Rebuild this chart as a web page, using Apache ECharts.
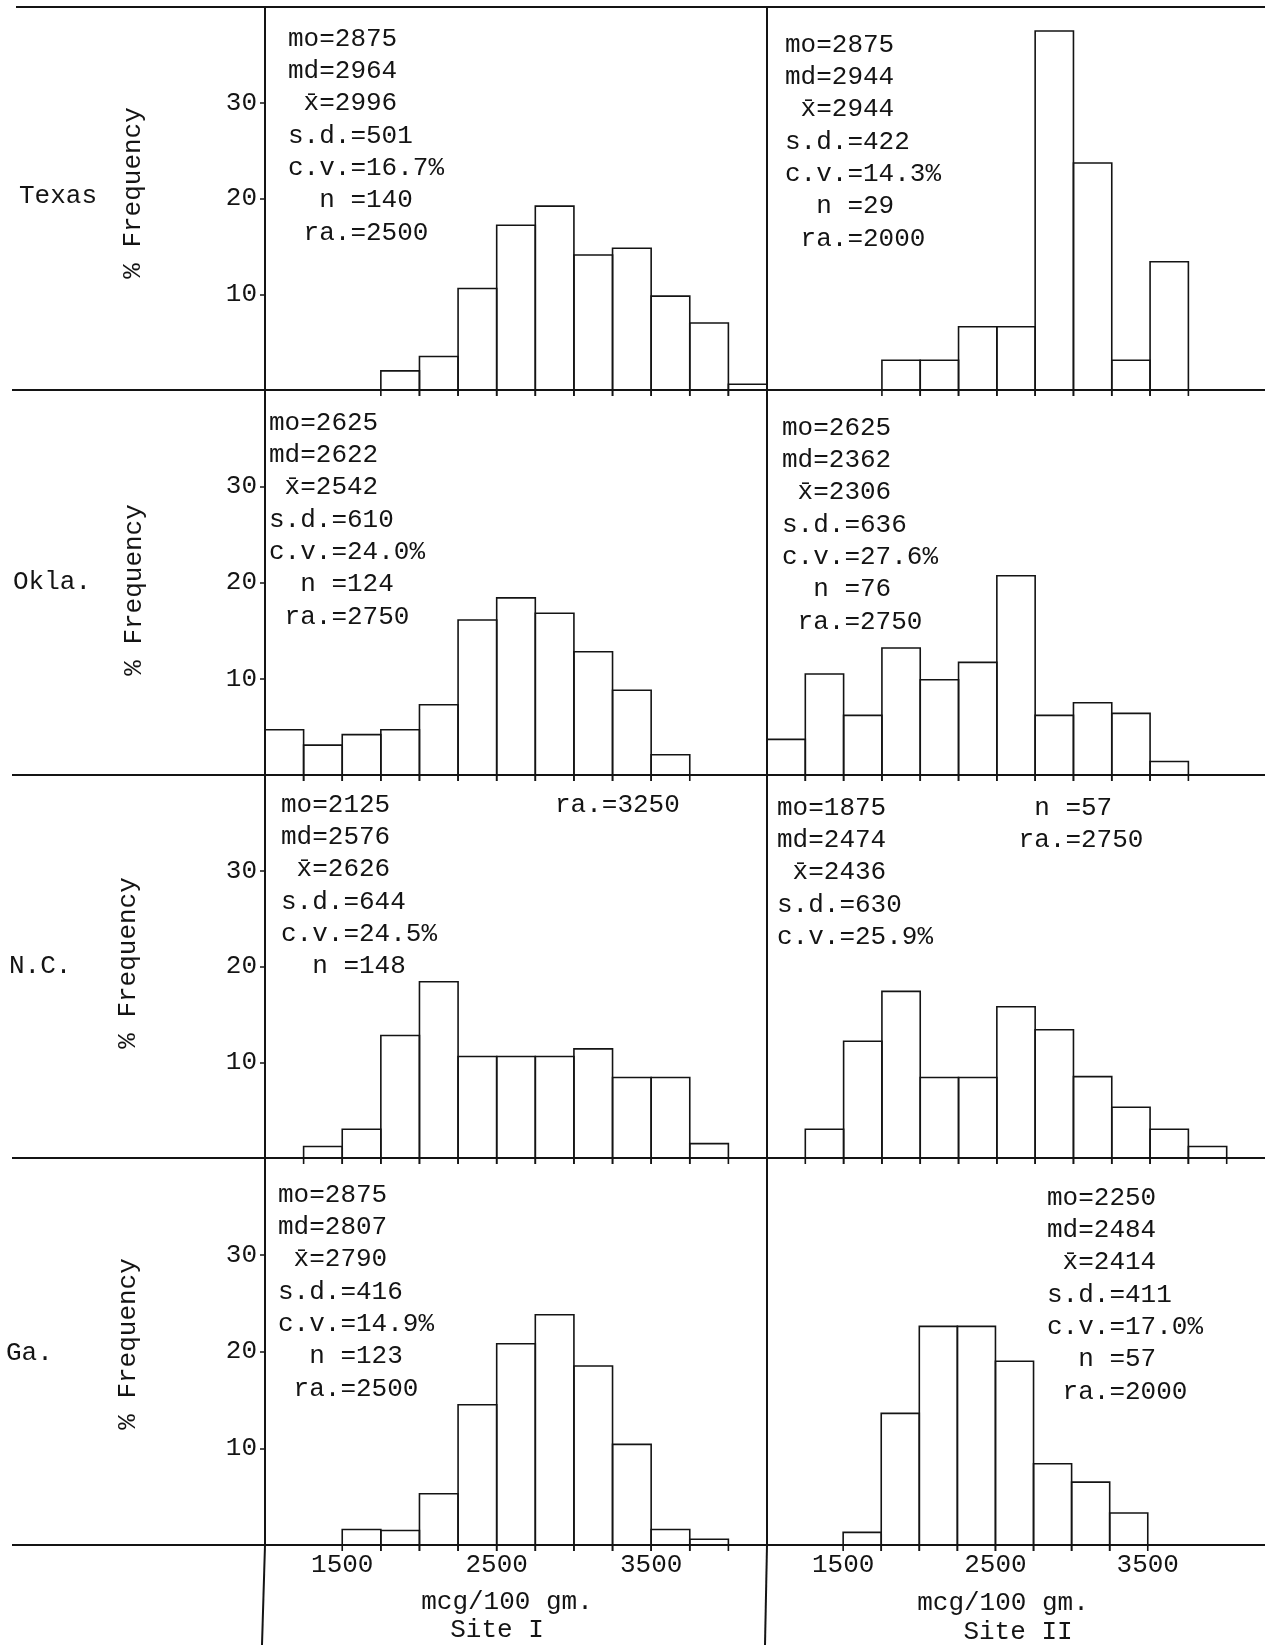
<!DOCTYPE html>
<html>
<head>
<meta charset="utf-8">
<script src="https://cdn.jsdelivr.net/npm/echarts@6/dist/echarts.min.js"></script>
<style>
  html, body { margin: 0; padding: 0; background: #fff; }
  #chart { width: 1265px; height: 1645px; }
</style>
</head>
<body>
<div id="chart"></div>
<script>
// ---------------- DATA ----------------
const ROW_NAMES = ['Texas', 'Okla.', 'N.C.', 'Ga.'];
const SITE_NAMES = ['Site I', 'Site II'];
const Y_AXIS_NAME = '% Frequency';
const X_AXIS_NAME = 'mcg/100 gm.';
const Y_TICKS = [10, 20, 30];
const X_TICKS = [1500, 2500, 3500];
const BIN = 250; // class width, mcg/100 gm

// Texas
const texasI_bins = [1750, 2000, 2250, 2500, 2750, 3000, 3250, 3500, 3750, 4000];
const texasI_vals = [2.0, 3.5, 10.6, 17.2, 19.2, 14.1, 14.8, 9.8, 7.0, 0.6];
const texasII_bins = [1750, 2000, 2250, 2500, 2750, 3000, 3250, 3500];
const texasII_vals = [3.1, 3.1, 6.6, 6.6, 37.5, 23.7, 3.1, 13.4];
// Oklahoma
const oklaI_bins = [1000, 1250, 1500, 1750, 2000, 2250, 2500, 2750, 3000, 3250, 3500];
const oklaI_vals = [4.7, 3.1, 4.2, 4.7, 7.3, 16.1, 18.4, 16.8, 12.8, 8.8, 2.1];
const oklaII_bins = [1000, 1250, 1500, 1750, 2000, 2250, 2500, 2750, 3000, 3250, 3500];
const oklaII_vals = [3.7, 10.5, 6.2, 13.2, 9.9, 11.7, 20.7, 6.2, 7.5, 6.4, 1.4];
// North Carolina
const ncI_bins = [1250, 1500, 1750, 2000, 2250, 2500, 2750, 3000, 3250, 3500, 3750];
const ncI_vals = [1.2, 3.0, 12.8, 18.4, 10.6, 10.6, 10.6, 11.4, 8.4, 8.4, 1.5];
const ncII_bins = [1250, 1500, 1750, 2000, 2250, 2500, 2750, 3000, 3250, 3500, 3750];
const ncII_vals = [3.0, 12.2, 17.4, 8.4, 8.4, 15.8, 13.4, 8.5, 5.3, 3.0, 1.2];
// Georgia
const gaI_bins = [1500, 1750, 2000, 2250, 2500, 2750, 3000, 3250, 3500, 3750];
const gaI_vals = [1.6, 1.5, 5.3, 14.5, 20.8, 23.8, 18.5, 10.4, 1.6, 0.6];
const gaII_bins = [1500, 1750, 2000, 2250, 2500, 2750, 3000, 3250];
const gaII_vals = [1.3, 13.6, 22.6, 22.6, 19.0, 8.4, 6.5, 3.3];

// Statistics typed in each panel
const texasI_stats = ['mo=2875', 'md=2964', ' x\u0304=2996', 's.d.=501', 'c.v.=16.7%', '  n =140', ' ra.=2500'];
const texasII_stats = ['mo=2875', 'md=2944', ' x\u0304=2944', 's.d.=422', 'c.v.=14.3%', '  n =29', ' ra.=2000'];
const oklaI_stats = ['mo=2625', 'md=2622', ' x\u0304=2542', 's.d.=610', 'c.v.=24.0%', '  n =124', ' ra.=2750'];
const oklaII_stats = ['mo=2625', 'md=2362', ' x\u0304=2306', 's.d.=636', 'c.v.=27.6%', '  n =76', ' ra.=2750'];
const ncI_stats = ['mo=2125', 'md=2576', ' x\u0304=2626', 's.d.=644', 'c.v.=24.5%', '  n =148'];
const ncI_extra = ['ra.=3250'];
const ncII_stats = ['mo=1875', 'md=2474', ' x\u0304=2436', 's.d.=630', 'c.v.=25.9%'];
const ncII_extra = ['  n =57', ' ra.=2750'];
const gaI_stats = ['mo=2875', 'md=2807', ' x\u0304=2790', 's.d.=416', 'c.v.=14.9%', '  n =123', ' ra.=2500'];
const gaII_stats = ['mo=2250', 'md=2484', ' x\u0304=2414', 's.d.=411', 'c.v.=17.0%', '  n =57', ' ra.=2000'];

// ---------------- LAYOUT ----------------
const FONT = '"Liberation Mono", "DejaVu Sans Mono", monospace';
const FS = 26;
const INK = '#141414';
const COL_LEFT = [265, 767];
const COL_W = 502;
const ROW_TOP = [7, 390, 775, 1158];
const ROW_BASE = [390, 775, 1158, 1545];
const LINE_H = 32.3;

const panels = [
  { r: 0, c: 0, bins: texasI_bins, vals: texasI_vals },
  { r: 0, c: 1, bins: texasII_bins, vals: texasII_vals },
  { r: 1, c: 0, bins: oklaI_bins, vals: oklaI_vals },
  { r: 1, c: 1, bins: oklaII_bins, vals: oklaII_vals },
  { r: 2, c: 0, bins: ncI_bins, vals: ncI_vals },
  { r: 2, c: 1, bins: ncII_bins, vals: ncII_vals },
  { r: 3, c: 0, bins: gaI_bins, vals: gaI_vals },
  { r: 3, c: 1, bins: gaII_bins, vals: gaII_vals }
];

const statBlocks = [
  { lines: texasI_stats, x: 288, y: 39 },
  { lines: texasII_stats, x: 785, y: 45 },
  { lines: oklaI_stats, x: 269, y: 423 },
  { lines: oklaII_stats, x: 782, y: 428 },
  { lines: ncI_stats, x: 281, y: 805 },
  { lines: ncI_extra, x: 555, y: 805 },
  { lines: ncII_stats, x: 777, y: 808 },
  { lines: ncII_extra, x: 1003, y: 808 },
  { lines: gaI_stats, x: 278, y: 1195 },
  { lines: gaII_stats, x: 1047, y: 1198 }
];

const rowLabelPos = [[19, 196], [13, 582], [9, 966], [6, 1353]];
const freqPos = [[133, 193], [134, 590], [128, 963], [128, 1344]];

// ---------------- BUILD ----------------
const grids = [], xAxes = [], yAxes = [], series = [];
panels.forEach((p, i) => {
  grids.push({
    left: COL_LEFT[p.c], top: ROW_TOP[p.r],
    width: COL_W, height: ROW_BASE[p.r] - ROW_TOP[p.r],
    containLabel: false
  });
  xAxes.push({
    gridIndex: i, type: 'value', min: 1000, max: 4250, interval: 250,
    axisLine: { show: true, lineStyle: { color: INK, width: 2 } },
    axisTick: { show: false },
    splitLine: { show: false },
    axisLabel: p.r === 3 ? {
      show: true, margin: 7, color: INK, fontFamily: FONT, fontSize: FS,
      formatter: v => (X_TICKS.indexOf(v) >= 0 ? String(v) : '')
    } : { show: false }
  });
  yAxes.push({
    gridIndex: i, type: 'value', min: 0, max: 40, interval: 10,
    axisLine: { show: true, lineStyle: { color: INK, width: 2 } },
    axisTick: p.c === 0 ? { show: true, length: 5, lineStyle: { color: INK, width: 1.5 } } : { show: false },
    splitLine: { show: false },
    axisLabel: p.c === 0 ? {
      show: true, margin: 8, color: INK, fontFamily: FONT, fontSize: FS,
      formatter: v => (Y_TICKS.indexOf(v) >= 0 ? String(v) : '')
    } : { show: false }
  });
  series.push({
    type: 'custom',
    xAxisIndex: i, yAxisIndex: i,
    clip: false,
    silent: true,
    data: p.bins.map((b, k) => [b, p.vals[k]]),
    encode: { x: 0, y: 1 },
    renderItem: (params, api) => {
      const x0 = api.value(0), v = api.value(1);
      const a = api.coord([x0, 0]);
      const b = api.coord([x0 + BIN, v]);
      const L = a[0], R = b[0], base = a[1], top = b[1];
      return {
        type: 'polyline',
        shape: { points: [[L, base + 6], [L, top], [R, top], [R, base + 6]] },
        style: { stroke: INK, lineWidth: 1.6, fill: null }
      };
    }
  });
});

const graphics = [];
function line(x1, y1, x2, y2, w) {
  graphics.push({ type: 'line', silent: true, z: 10,
    shape: { x1, y1, x2, y2 }, style: { stroke: INK, lineWidth: w || 2 } });
}
function text(str, x, y, align, rot) {
  graphics.push({ type: 'text', silent: true, z: 10, x, y, rotation: rot || 0,
    style: { text: str, fontFamily: FONT, fontSize: FS, fill: INK,
      align: align || 'left', verticalAlign: 'middle',
      textAlign: align || 'left', textVerticalAlign: 'middle' } });
}
// rules
line(16, 7, 1265, 7, 2.2);
ROW_BASE.forEach(y => line(12, y, 1265, y, 2.2));
// vertical rules continuing below the bottom row
line(COL_LEFT[0], ROW_BASE[3], COL_LEFT[0] - 3, 1645, 2);
line(COL_LEFT[1], ROW_BASE[3], COL_LEFT[1] - 2, 1645, 2);
// row names and axis names
ROW_NAMES.forEach((n, r) => {
  text(n, rowLabelPos[r][0], rowLabelPos[r][1], 'left');
  text(Y_AXIS_NAME, freqPos[r][0], freqPos[r][1], 'center', Math.PI / 2);
});
// stats blocks
statBlocks.forEach(b => b.lines.forEach((s, k) => text(s, b.x, b.y + k * LINE_H, 'left')));
// x axis names
text(X_AXIS_NAME, 507, 1602, 'center');
text(X_AXIS_NAME, 1003, 1603, 'center');
text(SITE_NAMES[0], 497, 1630, 'center');
text(SITE_NAMES[1], 1018, 1632, 'center');

const chart = echarts.init(document.getElementById('chart'), null, { renderer: 'canvas' });
chart.setOption({
  backgroundColor: '#ffffff',
  animation: false,
  grid: grids,
  xAxis: xAxes,
  yAxis: yAxes,
  series: series,
  graphic: { elements: graphics }
});
</script>
</body>
</html>
